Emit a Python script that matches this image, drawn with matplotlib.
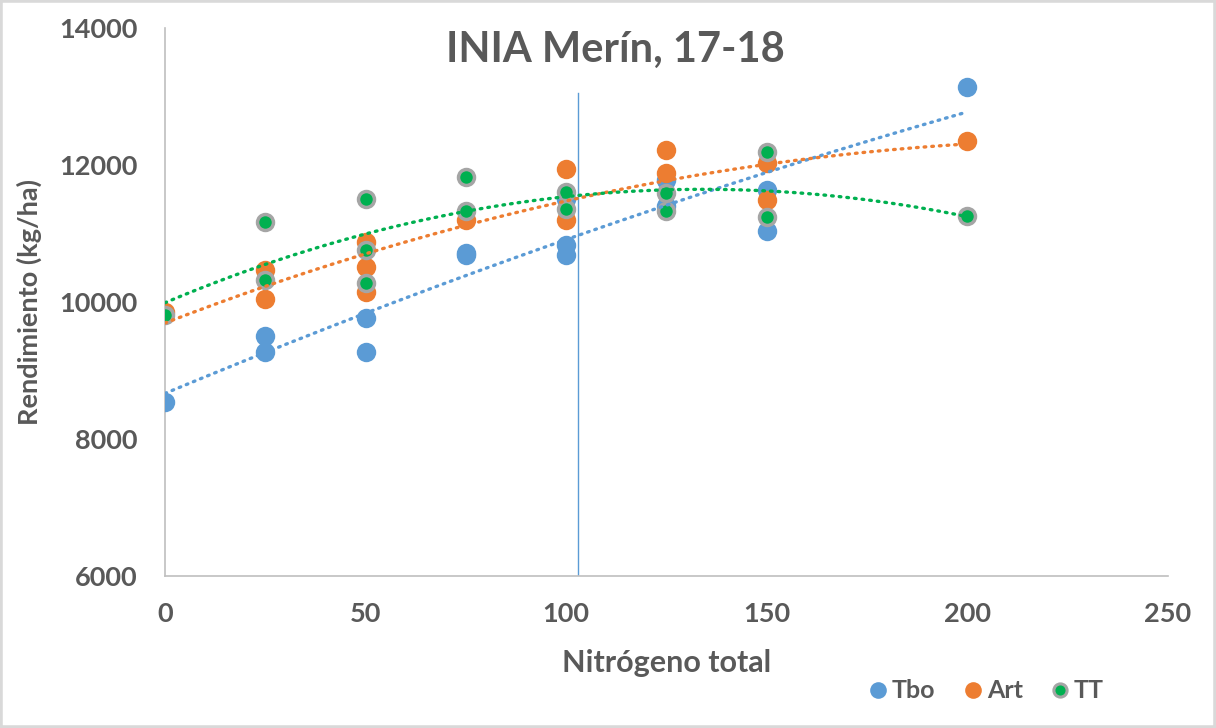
import numpy as np
import matplotlib.pyplot as plt
from matplotlib.lines import Line2D
from matplotlib.patches import Rectangle

# valores
tbo_x = [0, 25, 25, 50, 50, 75, 75, 100, 100, 100, 125, 125, 150, 150, 200]
tbo_y = [8540, 9500, 9270, 9770, 9270, 10720, 10680, 10830, 10690, 11500, 11780, 11400, 11640, 11030, 13140]

art_x = [0, 25, 25, 50, 50, 50, 75, 100, 100, 125, 125, 150, 150, 200]
art_y = [9850, 10470, 10040, 10880, 10510, 10150, 11200, 11940, 11200, 12220, 11880, 12030, 11490, 12350]

tt_x = [0, 25, 25, 50, 50, 50, 75, 75, 100, 100, 125, 125, 150, 150, 200]
tt_y = [9810, 11170, 10320, 11500, 10760, 10280, 11820, 11330, 11600, 11360, 11590, 11330, 12190, 11240, 11260]

linea_x = 103
linea_top = 13050

azul = "#5B9BD5"
naranja = "#ED7D31"
verde = "#00B050"
gris = "#A5A5A5"
texto = "#595959"

plt.rcParams['font.family'] = ['Lato', 'DejaVu Sans']

fig = plt.figure(figsize=(12.16, 7.28), dpi=100)
ax = fig.add_axes([0.1357, 0.2088, 0.8248, 0.7527])

ax.plot(tbo_x, tbo_y, 'o', color=azul, markersize=14, markeredgewidth=0, zorder=3)
ax.plot(art_x, art_y, 'o', color=naranja, markersize=14, markeredgewidth=0, zorder=3)
ax.plot(tt_x, tt_y, 'o', color=verde, markersize=11.5, markeredgecolor=gris,
        markeredgewidth=2.5, zorder=3)

# lineas de tendencia polinomicas (orden 2)
xs = np.linspace(0, 200, 200)
for xx, yy, c in [(tbo_x, tbo_y, azul), (art_x, art_y, naranja), (tt_x, tt_y, verde)]:
    p = np.polyfit(xx, yy, 2)
    ax.plot(xs, np.polyval(p, xs), color=c, linewidth=2.4,
            linestyle=(0, (0.5, 1.8)), dash_capstyle='round', zorder=4)

ax.plot([linea_x, linea_x], [6000, linea_top], color=azul, linewidth=1, zorder=2)

ax.set_xlim(0, 250)
ax.set_ylim(6000, 14000)
ax.set_xticks([0, 50, 100, 150, 200, 250])
ax.set_yticks([6000, 8000, 10000, 12000, 14000])
for s in ['top', 'right']:
    ax.spines[s].set_visible(False)
for s in ['left', 'bottom']:
    ax.spines[s].set_color("#BFBFBF")
    ax.spines[s].set_linewidth(1.2)
ax.tick_params(length=0, labelsize=19.5, labelcolor=texto)
ax.tick_params(axis='y', pad=20)
ax.tick_params(axis='x', pad=19)
for lbl in ax.get_xticklabels() + ax.get_yticklabels():
    lbl.set_fontweight('bold')

ax.set_xlabel("Nitrógeno total", fontsize=22, fontweight='bold', color=texto)
ax.set_ylabel("Rendimiento (kg/ha)", fontsize=19.5, fontweight='bold', color=texto)
ax.xaxis.set_label_coords(0.5, -0.159)
ax.xaxis.label.set_va('center')
ax.yaxis.set_label_coords(-0.135, 0.5)
ax.yaxis.label.set_va('center')
fig.text(0.506, 0.931, "INIA Merín, 17-18", fontsize=30, fontweight='bold',
         color=texto, ha='center', va='center')

handles = [
    Line2D([], [], marker='o', linestyle='', color=azul, markersize=12, markeredgewidth=0),
    Line2D([], [], marker='o', linestyle='', color=naranja, markersize=12, markeredgewidth=0),
    Line2D([], [], marker='o', linestyle='', color=verde, markersize=9.5,
           markeredgecolor=gris, markeredgewidth=2.2),
]
leg = fig.legend(handles, ["Tbo", "Art", "TT"], loc='center', bbox_to_anchor=(0.81, 0.051),
                 ncol=3, frameon=False, handletextpad=0.05, columnspacing=1.0,
                 handlelength=1.0, prop={'size': 18, 'weight': 'bold'})
for t in leg.get_texts():
    t.set_color(texto)

# marco exterior
fig.patches.append(Rectangle((0, 0), 1, 1, transform=fig.transFigure, fill=False,
                             edgecolor="#D9D9D9", linewidth=4))

fig.savefig("out.png", dpi=100)
